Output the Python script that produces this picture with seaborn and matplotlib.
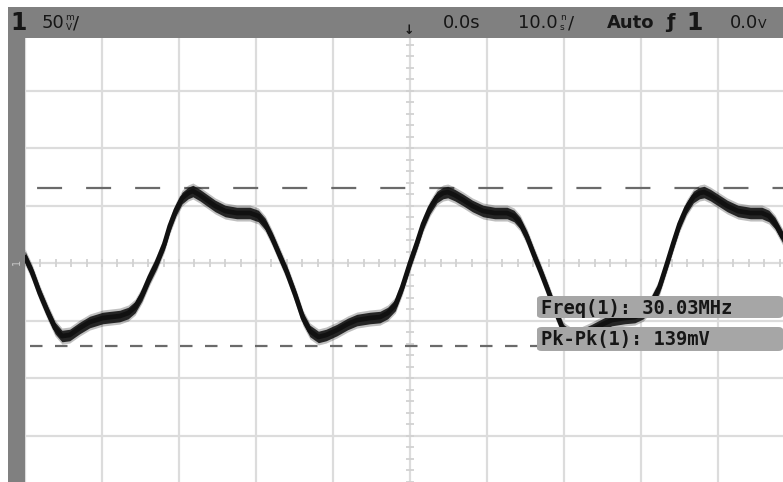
import numpy as np
import pandas as pd
import seaborn as sns
import matplotlib
matplotlib.use("Agg")
import matplotlib.pyplot as plt
from matplotlib.patches import Rectangle, FancyBboxPatch

# Scope trace (10 ns/div, 50 mV/div)
time_ns = [-50.0, -49.1, -48.1, -47.0, -46.1, -45.2, -44.2, -42.9, -41.6, -39.9,
           -37.7, -36.6, -35.7, -34.8, -33.8, -32.9, -31.9, -31.2, -30.4, -29.6,
           -28.8, -28.2, -27.3, -26.4, -25.3, -24.0, -22.5, -20.8, -19.7, -18.8,
           -17.9, -16.9, -16.0, -14.9, -13.9, -13.0, -11.9, -10.9, -9.5, -8.1,
           -6.9, -5.2, -3.9, -2.9, -1.9, -1.0, 0.0, 0.9, 1.7, 2.6,
           3.5, 4.3, 4.9, 5.8, 6.9, 8.1, 9.5, 11.0, 12.6, 13.5,
           14.3, 15.2, 16.1, 17.0, 17.9, 19.0, 19.9, 21.2, 22.2, 23.6,
           25.1, 26.2, 27.9, 29.2, 30.3, 31.2, 32.4, 33.4, 34.2, 35.0,
           35.9, 36.8, 37.6, 38.2, 39.0, 40.0, 41.2, 42.6, 44.2, 45.7,
           46.6, 47.4, 48.4]
trace_mv = [5.2, -7.8, -26.1, -43.5, -56.5, -63.5, -62.6, -56.5, -51.3, -47.8,
            -46.1, -43.5, -38.3, -27.8, -12.2, 0.0, 16.5, 32.2, 46.1, 56.5,
            60.9, 62.6, 59.1, 54.8, 49.6, 45.2, 43.5, 43.5, 40.9, 33.9,
            21.7, 6.1, -7.8, -27.8, -47.8, -59.1, -64.3, -62.6, -58.3, -53.0,
            -49.6, -47.8, -47.0, -43.5, -36.5, -20.9, 0.0, 17.4, 33.9, 47.8,
            57.4, 60.9, 61.7, 59.1, 54.8, 49.6, 45.2, 43.5, 43.5, 40.9,
            34.8, 22.6, 7.0, -7.8, -23.5, -43.5, -58.3, -64.3, -62.6, -58.3,
            -53.0, -49.6, -47.8, -47.0, -43.5, -36.5, -20.9, 0.0, 17.4, 33.9,
            47.8, 57.4, 60.9, 61.7, 59.1, 54.8, 49.6, 45.2, 43.5, 43.5,
            40.9, 34.8, 22.6]

grid_ns = [-50, -40, -30, -20, -10, 0, 10, 20, 30, 40]
grid_mv = [-150, -100, -50, 0, 50, 100, 150, 200]
pk_hi_mv = 65.2
pk_lo_mv = -72.2
freq_label = "Freq(1): 30.03MHz"
pkpk_label = "Pk-Pk(1): 139mV"

W, H = 783, 482


def px(x, y):
    # screen pixel -> axes fraction
    return x / W, 1 - y / H


sns.set_style("white")
plt.rcParams["lines.scale_dashes"] = False
fig = plt.figure(figsize=(W / 100, H / 100), dpi=100)
ax = fig.add_axes([0, 0, 1, 1])
ax.set_xlim(-53.25, 48.44)
ax.set_ylim(-190.4, 228.7)
ax.axis("off")

# graticule
for t in grid_ns:
    ax.axvline(t, color="#dcdcdc", lw=1.6, zorder=0)
for v in grid_mv:
    ax.axhline(v, color="#dcdcdc", lw=1.6, zorder=0)
mx = np.arange(-52, 50, 2)
ax.plot(mx, np.zeros_like(mx), ls="none", marker="|", ms=6, mew=1.3, color="#d2d2d2", zorder=0)
my = np.arange(-190, 230, 10)
ax.plot(np.zeros_like(my), my, ls="none", marker="_", ms=6, mew=1.3, color="#d2d2d2", zorder=0)

# peak-to-peak markers
ax.axhline(pk_hi_mv, color="#6a6a6a", lw=1.6, linestyle=(8.6, (18, 17.3)), zorder=1)
ax.axhline(pk_lo_mv, color="#6a6a6a", lw=1.6, linestyle=(14.4, (9, 9)), zorder=1)

# trace with noise band
df = pd.DataFrame({"t": time_ns, "v": trace_mv})
ax.fill_between(df["t"], df["v"] - 7, df["v"] + 7, color="#000000", alpha=0.25, lw=0, zorder=2)
ax.fill_between(df["t"], df["v"] - 5, df["v"] + 5, color="#141414", alpha=0.9, lw=0, zorder=3)
sns.lineplot(data=df, x="t", y="v", ax=ax, color="#111111", lw=3.4, sort=False,
             estimator=None, zorder=4, legend=False)

# blank margin outside the screen
ax.add_patch(Rectangle((0, 0), 8 / W, 1, transform=ax.transAxes, color="white", lw=0, zorder=9))
ax.add_patch(Rectangle(px(0, 7), 1, 7 / H, transform=ax.transAxes, color="white", lw=0, zorder=9))

# screen frame
ax.add_patch(Rectangle(px(8, 482), 17 / W, 475 / H, transform=ax.transAxes,
                       color="#808080", lw=0, zorder=10))
ax.add_patch(Rectangle(px(8, 38), (W - 8) / W, 31 / H, transform=ax.transAxes,
                       color="#808080", lw=0, zorder=10))

tk = dict(transform=ax.transAxes, va="center", ha="left", color="#161616", zorder=12)
ax.text(*px(10, 23), "1", fontsize=17, weight="bold", **tk)
ax.text(*px(42, 23), "50", fontsize=13, **tk)
ax.text(*px(65, 18), "m", fontsize=6.5, **tk)
ax.text(*px(66, 28), "V", fontsize=6.5, **tk)
ax.text(*px(73, 23), "/", fontsize=13, **tk)
ax.text(*px(404, 30), "\u2193", fontsize=9, weight="bold", **tk)
ax.text(*px(443, 23), "0.0s", fontsize=13, **tk)
ax.text(*px(518, 23), "10.0", fontsize=13, **tk)
ax.text(*px(560, 18), "n", fontsize=6.5, **tk)
ax.text(*px(560, 28), "s", fontsize=6.5, **tk)
ax.text(*px(568, 23), "/", fontsize=13, **tk)
ax.text(*px(607, 23), "Auto", fontsize=13, weight="bold", **tk)
ax.text(*px(666, 23), "\u0192", fontsize=14, weight="bold", **tk)
ax.text(*px(686, 23), "1", fontsize=17, weight="bold", **tk)
ax.text(*px(730, 23), "0.0", fontsize=13, **tk)
ax.text(*px(758, 25), "V", fontsize=9, **tk)
ax.text(*px(12, 262), "1", fontsize=7, rotation=90, color="#c8c8c8",
        transform=ax.transAxes, va="center", ha="left", zorder=12)

# measurement boxes
for y0, y1, label in [(296, 318, freq_label), (327, 351, pkpk_label)]:
    ax.add_patch(FancyBboxPatch(px(537, y1), (W - 537) / W, (y1 - y0) / H,
                                boxstyle="round,pad=0,rounding_size=0.006",
                                transform=ax.transAxes, fc="#a6a6a6", ec="none", zorder=11))
    ax.text(*px(541, (y0 + y1) / 2 + 1), label, family="DejaVu Sans Mono", fontsize=13.5,
            weight="bold", **tk)

fig.savefig("out.png", dpi=100)
